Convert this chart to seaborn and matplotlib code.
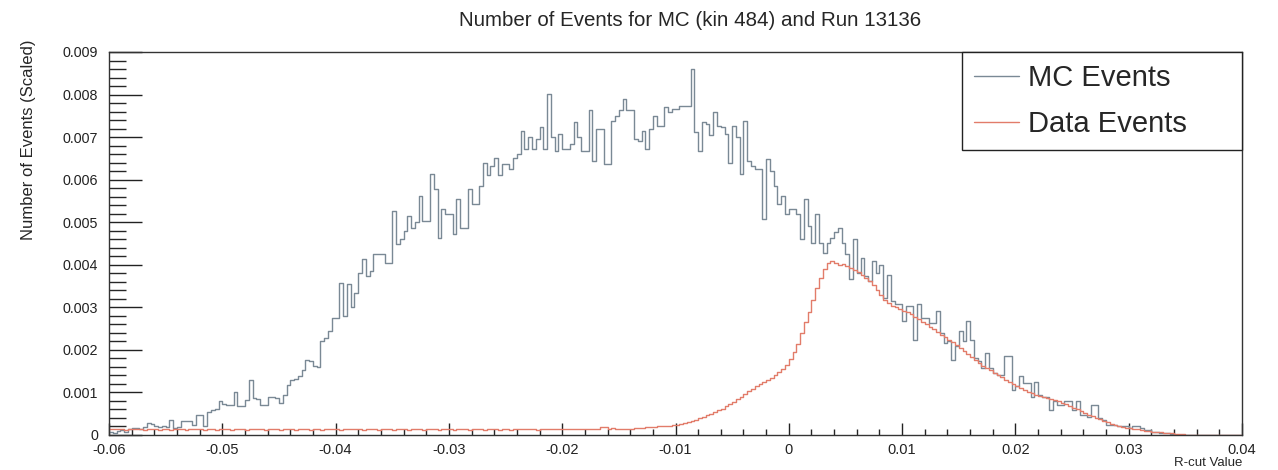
import numpy as np
import pandas as pd
import matplotlib
matplotlib.use("Agg")
import matplotlib.pyplot as plt
from matplotlib.ticker import MultipleLocator, FuncFormatter
from matplotlib.lines import Line2D
import seaborn as sns

# ---------------- data (bin contents in units of 1e-5, 300 bins from -0.06 to 0.04) -------------
X_MIN, X_MAX, N_BINS = -0.06, 0.04, 300
UNIT = 1e-5

mc_counts = [
    6, 4, 9, 12, 8, 14, 16, 16, 15, 18,
    28, 26, 20, 18, 21, 19, 35, 16, 18, 34,
    32, 33, 24, 46, 47, 20, 55, 58, 60, 80,
    72, 70, 70, 100, 67, 68, 82, 130, 86, 84,
    71, 70, 90, 90, 88, 75, 94, 118, 130, 131,
    138, 153, 177, 175, 161, 160, 220, 228, 244, 275,
    275, 358, 280, 354, 300, 334, 380, 413, 373, 385,
    425, 425, 425, 405, 405, 527, 448, 460, 480, 515,
    487, 500, 562, 503, 503, 613, 578, 464, 530, 519,
    519, 472, 554, 487, 487, 578, 542, 542, 586, 640,
    610, 633, 652, 610, 637, 637, 625, 652, 660, 715,
    672, 700, 672, 696, 723, 672, 802, 700, 668, 708,
    672, 672, 684, 735, 700, 668, 668, 763, 645, 719,
    719, 637, 637, 739, 750, 763, 790, 763, 763, 696,
    692, 715, 672, 719, 750, 727, 727, 770, 759, 767,
    767, 774, 774, 774, 860, 711, 668, 735, 731, 704,
    759, 727, 723, 708, 640, 727, 700, 613, 739, 645,
    633, 625, 625, 507, 649, 621, 586, 542, 562, 519,
    531, 531, 519, 460, 554, 491, 452, 519, 452, 428,
    452, 464, 476, 487, 452, 425, 366, 460, 381, 417,
    373, 362, 409, 381, 400, 322, 377, 314, 307, 307,
    267, 303, 303, 224, 307, 275, 275, 263, 263, 291,
    240, 216, 220, 177, 208, 244, 220, 267, 224, 181,
    173, 157, 193, 157, 145, 142, 142, 185, 185, 106,
    114, 138, 122, 122, 90, 124, 94, 90, 90, 59,
    79, 71, 71, 79, 79, 59, 79, 47, 47, 43,
    71, 71, 39, 35, 24, 24, 24, 20, 20, 20,
    16, 20, 20, 16, 12, 12, 8, 8, 4, 4,
    4, 2, 0, 0, 0, 0, 0, 0, 0, 0,
    0, 0, 0, 0, 0, 0, 0, 0, 0, 0,
]

data_counts = [
    15, 14, 13, 14, 12, 13, 15, 14, 13, 12,
    13, 14, 13, 12, 13, 14, 12, 13, 14, 13,
    12, 13, 14, 13, 13, 12, 14, 13, 12, 13,
    14, 13, 12, 13, 14, 13, 12, 13, 13, 14,
    13, 12, 13, 14, 13, 12, 13, 14, 13, 12,
    13, 14, 13, 12, 14, 13, 12, 13, 14, 13,
    13, 12, 13, 14, 13, 15, 13, 12, 13, 14,
    13, 12, 14, 13, 13, 12, 13, 14, 13, 12,
    13, 14, 13, 12, 13, 14, 13, 12, 14, 13,
    13, 12, 13, 14, 13, 12, 13, 14, 13, 12,
    13, 14, 13, 12, 14, 13, 12, 13, 14, 13,
    13, 14, 13, 12, 13, 14, 13, 15, 13, 14,
    13, 14, 13, 15, 14, 13, 14, 15, 14, 15,
    19, 18, 14, 16, 15, 14, 14, 15, 15, 16,
    16, 17, 18, 18, 19, 20, 21, 22, 22, 23,
    24, 26, 28, 30, 33, 36, 39, 42, 46, 50,
    54, 58, 62, 67, 72, 78, 84, 90, 97, 103,
    108, 114, 119, 124, 129, 134, 140, 147, 155, 165,
    178, 195, 215, 240, 265, 290, 318, 345, 368, 390,
    405, 408, 404, 400, 402, 398, 392, 388, 383, 377,
    370, 362, 352, 340, 328, 318, 310, 304, 300, 296,
    292, 288, 284, 278, 272, 266, 260, 254, 248, 242,
    236, 230, 224, 218, 211, 204, 197, 190, 183, 176,
    169, 163, 157, 152, 146, 141, 136, 130, 125, 120,
    115, 110, 106, 102, 98, 95, 92, 90, 88, 85,
    82, 79, 76, 72, 68, 64, 60, 56, 52, 48,
    45, 41, 38, 34, 30, 27, 24, 21, 19, 17,
    16, 14, 13, 11, 10, 9, 8, 7, 6, 5,
    5, 4, 3, 3, 2, 1, 0, 0, 0, 0,
    0, 0, 0, 0, 0, 0, 0, 0, 0, 0,
]

series_names = ["MC Events", "Data Events"]
series_colors = ["#7a8995", "#e27c6a"]
title_text = "Number of Events for MC (kin 484) and Run 13136"
x_label = "R-cut Value"
y_label = "Number of Events (Scaled)"

assert len(mc_counts) == N_BINS and len(data_counts) == N_BINS

edges = np.linspace(X_MIN, X_MAX, N_BINS + 1)
centers = 0.5 * (edges[:-1] + edges[1:])
df = pd.DataFrame({
    "x": np.concatenate([centers, centers]),
    "w": np.concatenate([np.array(mc_counts), np.array(data_counts)]) * UNIT,
    "series": [series_names[0]] * N_BINS + [series_names[1]] * N_BINS,
})

# ---------------- style ----------------
sns.set_style("ticks")
plt.rcParams["font.family"] = ["Liberation Sans", "DejaVu Sans"]

fig = plt.figure(figsize=(12.78, 4.70), dpi=100)
ax = fig.add_axes([109 / 1278, 1 - 435 / 470, 1133 / 1278, 383 / 470])

for name, color in zip(series_names, series_colors):
    sns.histplot(data=df[df["series"] == name], x="x", weights="w",
                 bins=N_BINS, binrange=(X_MIN, X_MAX),
                 element="step", fill=False, color=color, linewidth=1.0, ax=ax)

ax.set_xlim(X_MIN, X_MAX)
ax.set_ylim(0, 0.009)

ax.xaxis.set_major_locator(MultipleLocator(0.01))
ax.xaxis.set_minor_locator(MultipleLocator(0.002))
ax.yaxis.set_major_locator(MultipleLocator(0.001))
ax.yaxis.set_minor_locator(MultipleLocator(0.0002))
ax.xaxis.set_major_formatter(FuncFormatter(lambda v, p: "0" if abs(v) < 1e-9 else f"{v:.2f}"))
ax.yaxis.set_major_formatter(FuncFormatter(lambda v, p: "0" if abs(v) < 1e-9 else f"{v:.3f}"))

ax.tick_params(axis="y", which="major", direction="in", length=24, width=1.0, pad=8, labelsize=10.3, colors="#222222")
ax.tick_params(axis="y", which="minor", direction="in", length=12, width=1.0)
ax.tick_params(axis="x", which="major", direction="in", length=8.5, width=1.0, pad=5.5, labelsize=10.5, colors="#222222")
ax.tick_params(axis="x", which="minor", direction="in", length=4.2, width=1.0)

for s in ax.spines.values():
    s.set_color("#333333")
    s.set_linewidth(1.0)

ax.set_xlabel(x_label, loc="right", fontsize=9.5, labelpad=0)
ax.set_ylabel(y_label, loc="top", fontsize=12)
ax.yaxis.set_label_coords(-0.064, 1.032)

fig.text(690 / 1278, 1 - 21 / 470, title_text, ha="center", va="center", fontsize=14.8)

handles = [Line2D([], [], color=c, lw=1.0) for c in series_colors]
leg = ax.legend(handles, series_names, loc="upper left",
                bbox_to_anchor=(853 / 1133, 0.0, 280 / 1133, 1.0), mode="expand",
                borderaxespad=0.0, fontsize=21, frameon=True, fancybox=False,
                handlelength=1.55, handletextpad=0.3, borderpad=0.42, labelspacing=0.6)
leg.get_frame().set_edgecolor("#222222")
leg.get_frame().set_linewidth(1.0)
leg.get_frame().set_alpha(1.0)

fig.savefig("out.png", dpi=100, facecolor="white")
